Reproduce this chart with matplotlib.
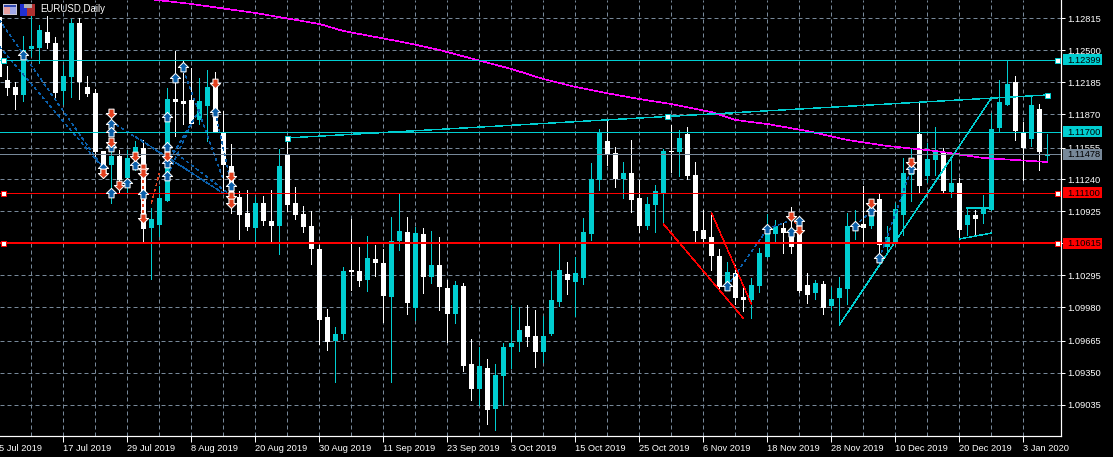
import numpy as np
import matplotlib
matplotlib.use("Agg")
import matplotlib.pyplot as plt
from matplotlib.patches import Rectangle
from matplotlib.transforms import Affine2D

# daily candles, bar 0 is 5 Jul 2019
open_ = [1.12833,1.12210,1.12137,1.12062,1.12515,1.12528,1.12682,1.12574,1.12101,1.12239,
         1.12771,1.12141,1.12082,1.11511,1.11373,1.11461,1.11245,1.11481,1.11540,1.10753,
         1.10782,1.11019,1.12023,1.12003,1.12013,1.11816,1.11954,1.12151,1.11688,1.11363,
         1.11058,1.10900,1.10753,1.10999,1.10822,1.10772,1.11471,1.10999,1.10891,1.10772,
         1.10546,1.09876,1.09640,1.09709,1.10340,1.10330,1.10241,1.10448,1.10408,1.10074,
         1.10625,1.10714,1.09966,1.10694,1.10271,1.10389,1.10162,1.09906,1.10182,1.09414,
         1.09168,1.09375,1.08971,1.09296,1.09582,1.09631,1.09788,1.09690,1.09532,1.09710,
         1.10025,1.10300,1.10221,1.10261,1.10694,1.11225,1.11609,1.11491,1.11235,1.11294,
         1.11048,1.10773,1.10979,1.11097,1.11511,1.11501,1.11678,1.11275,1.10733,1.10664,
         1.10477,1.10191,1.10309,1.10073,1.10044,1.10181,1.10467,1.10693,1.10752,1.10700,
         1.10700,1.10191,1.10113,1.10201,1.09985,1.10063,1.10152,1.10762,1.10792,1.10772,
         1.11038,1.10565,1.10595,1.10880,1.11274,1.11678,1.11264,1.11422,1.11491,1.11107,
         1.11195,1.10782,1.10880,1.10890,1.10930,1.11737,1.11963,1.12189,1.11687,1.11628,
         1.11924,1.11461]
high = [1.12931,1.12347,1.12187,1.12643,1.12866,1.12751,1.12840,1.12633,1.12357,1.12810,
        1.12820,1.12249,1.12121,1.11511,1.11619,1.11521,1.11521,1.11609,1.11619,1.10950,
        1.11166,1.12131,1.12495,1.12406,1.12328,1.12229,1.12308,1.12288,1.11904,1.11580,
        1.11117,1.11127,1.11058,1.11068,1.11127,1.11530,1.11635,1.11156,1.10969,1.10920,
        1.10585,1.09955,1.09778,1.10369,1.10842,1.10566,1.10674,1.10586,1.10546,1.10861,
        1.11088,1.10861,1.10763,1.10753,1.10723,1.10664,1.10241,1.10231,1.10212,1.09660,
        1.09582,1.09464,1.09414,1.09621,1.09995,1.09975,1.09995,1.09946,1.09887,1.10330,
        1.10615,1.10418,1.10467,1.10851,1.11393,1.11727,1.11806,1.11550,1.11403,1.11619,
        1.11225,1.11058,1.11176,1.11531,1.11767,1.11718,1.11747,1.11403,1.10930,1.10910,
        1.10546,1.10418,1.10388,1.10201,1.10260,1.10556,1.10890,1.10831,1.10802,1.10959,
        1.10782,1.10309,1.10241,1.10231,1.10172,1.10270,1.10900,1.10930,1.11166,1.11038,
        1.11087,1.10772,1.10998,1.11441,1.11540,1.11983,1.11589,1.11747,1.11540,1.11451,
        1.11245,1.10949,1.10930,1.11077,1.11884,1.12209,1.12406,1.12249,1.11796,1.12042,
        1.11973,1.11678]
low = [1.12242,1.12062,1.11924,1.12003,1.12446,1.12380,1.12525,1.12013,1.11973,1.12042,
       1.12023,1.12052,1.11442,1.11258,1.11002,1.11110,1.11101,1.11324,1.10605,1.10251,
       1.10674,1.11019,1.11658,1.11776,1.11776,1.11776,1.11609,1.11698,1.11127,1.10904,
       1.10645,1.10733,1.10615,1.10782,1.10615,1.10497,1.10917,1.10841,1.10713,1.10398,
       1.09611,1.09552,1.09237,1.09660,1.10143,1.10182,1.10133,1.10280,1.09828,1.09237,
       1.10536,1.09906,1.09847,1.10113,1.10212,1.09946,1.09631,1.09818,1.09345,1.09060,
       1.09011,1.08823,1.08764,1.09011,1.09375,1.09542,1.09591,1.09385,1.09434,1.09700,
       1.09985,1.10103,1.09887,1.10202,1.10635,1.11127,1.11373,1.11157,1.11048,1.10910,
       1.10714,1.10743,1.10714,1.10792,1.11304,1.11265,1.11235,1.10615,1.10624,1.10339,
       1.10142,1.10142,1.10004,1.09935,1.09867,1.10122,1.10467,1.10605,1.10506,1.10506,
       1.10122,1.10014,1.10054,1.09906,1.09945,1.09798,1.10004,1.10644,1.10624,1.10752,
       1.10437,1.10516,1.10595,1.10683,1.11018,1.11107,1.11205,1.11274,1.11097,1.11058,
       1.10644,1.10683,1.10683,1.10802,1.10930,1.11697,1.11963,1.11619,1.11225,1.11560,
       1.11323,1.11422]
close = [1.12242,1.12134,1.12062,1.12505,1.12544,1.12702,1.12574,1.12082,1.12249,1.12771,
         1.12190,1.12072,1.11501,1.11356,1.11461,1.11225,1.11442,1.11550,1.10743,1.10841,
         1.11048,1.12023,1.11996,1.11973,1.11776,1.12003,1.12141,1.11698,1.11373,1.11012,
         1.10881,1.10763,1.10999,1.10822,1.10772,1.11363,1.10979,1.10881,1.10763,1.10546,
         1.09847,1.09630,1.09709,1.10329,1.10320,1.10231,1.10458,1.10408,1.10084,1.10625,
         1.10723,1.10015,1.10704,1.10271,1.10389,1.10172,1.09906,1.10192,1.09395,1.09168,
         1.09395,1.08962,1.09306,1.09582,1.09621,1.09749,1.09680,1.09532,1.09690,1.10044,
         1.10340,1.10241,1.10310,1.10714,1.11235,1.11698,1.11481,1.11235,1.11294,1.11029,
         1.10773,1.10989,1.11117,1.11511,1.11501,1.11639,1.11265,1.10723,1.10644,1.10477,
         1.10172,1.10319,1.10063,1.10044,1.10191,1.10506,1.10713,1.10772,1.10703,1.10565,
         1.10132,1.10093,1.10211,1.09965,1.10054,1.10162,1.10772,1.10782,1.10752,1.11038,
         1.10585,1.10664,1.10939,1.11294,1.11356,1.11166,1.11432,1.11500,1.11117,1.11195,
         1.10733,1.10880,1.10841,1.10959,1.11727,1.11993,1.12170,1.11707,1.11540,1.11963,
         1.11500,1.11481]

# moving average
ma_bar = [19,20,24,32,40,43,47,51,55,60,64,68,72,76,80,84,89,92,96,101,106,111,117,123,131]
ma_price = [1.13005,1.12994,1.12958,1.12869,1.12761,1.12692,1.12633,1.12574,1.12505,1.12401,
            1.12318,1.12219,1.12141,1.12079,1.12022,1.11973,1.11894,1.11816,1.11776,1.11707,
            1.11619,1.11560,1.11511,1.11442,1.11402]

# signal arrows
up_bar = [3,13,14,14,14,14,16,17,18,21,21,21,21,22,23,27,29,91,96,99,100,107,109,110,114]
up_price = [1.12456,1.11340,1.11776,1.11694,1.11553,1.11101,1.11199,1.11373,1.11087,1.11842,
            1.11553,1.11389,1.11268,1.12226,1.12341,1.11891,1.11166,1.10181,1.10743,1.10716,
            1.10818,1.10775,1.10920,1.10454,1.11333]
down_bar = [14,14,13,15,17,18,18,18,21,27,29,29,29,99,100,109,114]
down_price = [1.11881,1.11603,1.11297,1.11176,1.11465,1.11340,1.11297,1.10848,1.11465,1.12183,
              1.11268,1.11071,1.10996,1.10874,1.10729,1.10995,1.11399]

# dotted links between signals: bar, price, bar, price
blue_links = [(0,1.12800,13,1.11340),(0,1.12538,13,1.11340),(14,1.11800,28,1.11094),
              (17,1.11652,28,1.11094),(21,1.11553,29,1.11071),(23,1.12308,25,1.11881),
              (25,1.11881,28,1.11225),(21,1.11389,25,1.11914),(21,1.11268,24,1.11776),
              (27,1.11891,29,1.11166),(91,1.10181,96,1.10743),(96,1.10743,99,1.10831),
              (107,1.10775,109,1.10920),(110,1.10454,114,1.11333)]
red_links = [(18,1.11340,18,1.10848),(19,1.10996,20,1.11291),(99,1.10874,100,1.10729)]

# drawn objects
cyan_lines = [(36,1.11639,131,1.12062),(105,1.09798,124,1.12032),
              (120,1.10644,124,1.10703),(121,1.10949,124,1.10949)]
red_lines = [(83,1.10792,93,1.09863),(89,1.10903,94,1.10004)]
anchor_bar = [36,83.5,131]
anchor_price = [1.11639,1.11851,1.12062]

levels = [1.12399,1.11700,1.11478,1.11100,1.10615]
level_text = ["1.12399","1.11700","1.11478","1.11100","1.10615"]
# where the terminal actually draws those levels on its rounded pixel scale
level_drawn = [1.12409,1.11700,1.11478,1.11100,1.10602]

price_labels = ["1.12815","1.12500","1.12185","1.11870","1.11555","1.11240","1.10925","1.10610",
                "1.10295","1.09980","1.09665","1.09350","1.09035"]
price_drawn = [1.12815,1.12500,1.12185,1.11870,1.11542,1.11230,1.10915,1.10600,
               1.10285,1.09970,1.09645,1.09330,1.09015]
date_bars = list(range(0,132,8))
date_labels = ["5 Jul 2019","17 Jul 2019","29 Jul 2019","8 Aug 2019","20 Aug 2019",
               "30 Aug 2019","11 Sep 2019","23 Sep 2019","3 Oct 2019","15 Oct 2019",
               "25 Oct 2019","6 Nov 2019","18 Nov 2019","28 Nov 2019","10 Dec 2019",
               "20 Dec 2019","3 Jan 2020"]

CYAN = "#00CED1"
GRID = "#778899"
RED = "#FF0000"
PX = 0.72  # one pixel in points at dpi 100
THIN = 0.3  # aliased slanted lines come out fat at PX

plt.rcParams['font.family'] = ['Liberation Sans', 'DejaVu Sans']

fig = plt.figure(figsize=(11.13, 4.57), dpi=100, facecolor="black")
ax = fig.add_axes([0, 21/457, 1060.5/1113, 436/457], facecolor="black")
ax.set_xlim(0.075, 132.6375)
ax.set_ylim(1.08705, 1.12997)

# grid
ax.set_xticks(date_bars[1:])
ax.set_xticks(range(4, 132, 8), minor=True)
ax.set_yticks(price_drawn)
ax.set_yticklabels(price_labels)
ax.set_xticklabels([])
ax.yaxis.tick_right()
ax.tick_params(axis="y", colors="white", length=3, width=PX, labelsize=6.7, pad=2)
ax.tick_params(axis="x", which="major", colors="white", length=4, width=PX)
ax.tick_params(axis="x", which="minor", length=0)
ax.grid(True, which="both", color=GRID, linewidth=PX, linestyle=(0, (4, 3)), zorder=0)
ax.set_axisbelow(True)
for name, sp in ax.spines.items():
    sp.set_visible(name in ("right", "bottom"))
    sp.set_color("white")
    sp.set_linewidth(PX * 1.2)

# candles
bars = np.arange(len(open_))
o = np.array(open_)
c = np.array(close)
colors = [CYAN if cl >= op else "white" for op, cl in zip(o, c)]
ax.vlines(bars, low, high, colors=colors, linewidth=PX, antialiased=False, zorder=2)
ax.bar(bars, np.abs(c - o), bottom=np.minimum(o, c), width=0.66, color=colors,
       linewidth=0, antialiased=False, zorder=3)

# moving average and objects
ax.plot(ma_bar, ma_price, color="#FF00FF", linewidth=THIN * 1.5, antialiased=False, zorder=4)
for b0, p0, b1, p1 in blue_links:
    ax.plot([b0, b1], [p0, p1], color="#0A5FAA", linewidth=THIN, linestyle=(0, (6, 8)),
            antialiased=False, zorder=4)
for b0, p0, b1, p1 in red_links:
    ax.plot([b0, b1], [p0, p1], color="#E2401E", linewidth=THIN, linestyle=(0, (6, 8)),
            antialiased=False, zorder=4)
for b0, p0, b1, p1 in cyan_lines:
    ax.plot([b0, b1], [p0, p1], color=CYAN, linewidth=THIN, antialiased=False, zorder=5)
for b0, p0, b1, p1 in red_lines:
    ax.plot([b0, b1], [p0, p1], color=RED, linewidth=THIN, antialiased=False, zorder=5)
ax.plot(anchor_bar, anchor_price, linestyle="none", marker="s", ms=3.6, mfc="white",
        mec=CYAN, mew=PX, zorder=7)

# horizontal levels
level_colors = [CYAN, CYAN, GRID, RED, RED]
level_width = [1, 1, 1, 1, 2]
for lv, col, w in zip(level_drawn, level_colors, level_width):
    ax.axhline(lv, color=col, linewidth=PX * w, antialiased=False, zorder=5)
for lv, col in zip([level_drawn[0], level_drawn[3], level_drawn[4]], [CYAN, RED, RED]):
    ax.plot([0.44, 132.2], [lv, lv], linestyle="none", marker="s", ms=3.6, mfc="white",
            mec=col, mew=PX, zorder=7, clip_on=False)

# arrows
up_shape = [(0, 1), (1, 0), (0.5, 0), (0.5, -0.85), (-0.5, -0.85), (-0.5, 0), (-1, 0), (0, 1)]
down_shape = [(x, -y) for x, y in up_shape]
ax.plot(up_bar, up_price, linestyle="none", marker=up_shape, ms=7.4, mfc="#0A5FAA",
        mec="white", mew=PX, zorder=6)
ax.plot(down_bar, down_price, linestyle="none", marker=down_shape, ms=7.4, mfc="#E2401E",
        mec="white", mew=PX, zorder=6)

# pixel helper for things that sit on the window, not on the price scale
win = Affine2D().scale(1 / 1113, -1 / 457).translate(0, 1) + fig.transFigure

# date labels
for b, lab in zip(date_bars, date_labels):
    ax.annotate(lab, xy=(b, 0), xycoords=("data", "axes fraction"), xytext=(0, -5.5),
                textcoords="offset points", ha="left", va="top", color="white",
                fontsize=6.7, annotation_clip=False)

# price boxes on the right
for lv, txt, col in zip(level_drawn, level_text, level_colors):
    y = (1.12997 - lv) / (1.12997 - 1.08705) * 436
    fig.add_artist(Rectangle((1062.5, y - 5.5), 39, 11, transform=win, facecolor=col,
                             edgecolor="none", zorder=10))
    fig.text(1067, y + 0.3, txt, transform=win, color="black", fontsize=6.7, va="center",
             ha="left", zorder=11)

# window icons and title
icon_parts = [(3, 4, 14, 11, "#C8C8D8"), (4, 5, 12, 2, "#3048B0"), (4, 7, 6, 7, "#E8A0A0"),
              (10, 7, 6, 7, "#A0A8E8"), (20, 4, 7, 12, "#2030D0"), (27, 4, 8, 12, "#B03030"),
              (24, 4, 8, 4, "#B0B0B0")]
for x, y, w, h, col in icon_parts:
    fig.add_artist(Rectangle((x, y), w, h, transform=win, facecolor=col, edgecolor="none",
                             zorder=10))
fig.text(40.5, 9.5, "EURUSD,Daily", transform=win, color="white", fontsize=6.9, va="center",
         ha="left", zorder=11)

fig.savefig("out.png", dpi=100, facecolor="black")
